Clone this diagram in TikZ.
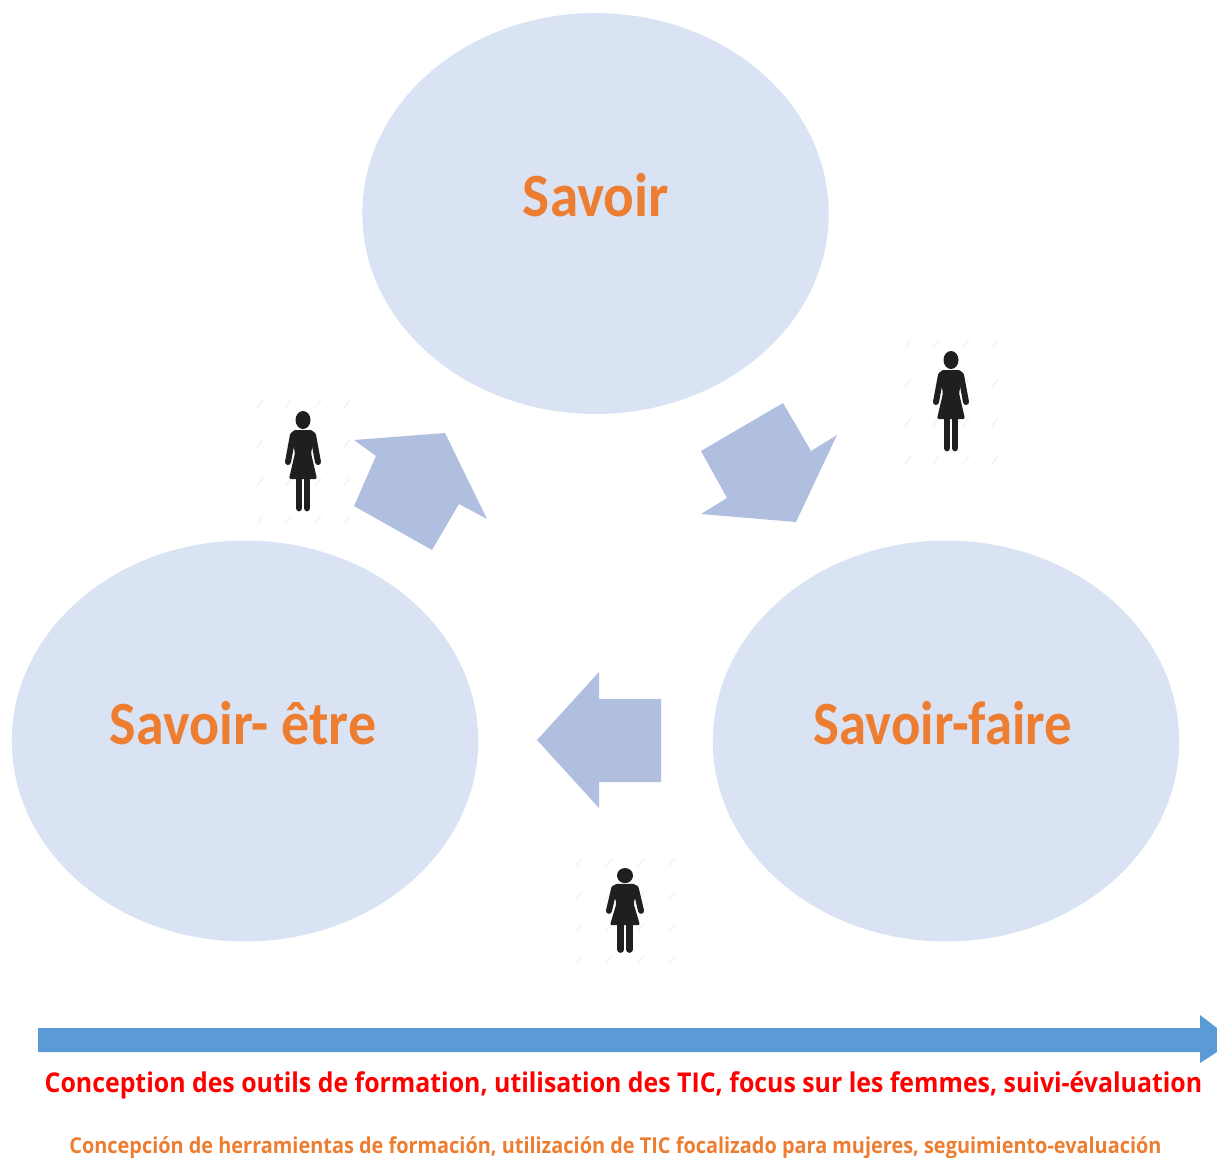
\documentclass[tikz,border=0pt]{standalone}
\usepackage{fontspec}
\setmainfont{Carlito}
\newfontfamily\notefont{Open Sans}
\usetikzlibrary{shapes.geometric}
\definecolor{circlefill}{HTML}{DAE3F3}
\definecolor{arrowfill}{HTML}{B0BEDF}
\definecolor{timeblue}{HTML}{5B9BD5}
\definecolor{titleorange}{HTML}{ED7D31}
\colorlet{womanfill}{black!88}
\tikzset{
  woman/.pic={
    \foreach \mx in {-43,-15,15,44}
      \foreach \my in {-57,-18,21,59}
        \draw[gray!9,line width=.035cm,rotate around={55:(\mx,\my)}] (\mx-5,\my)--(\mx+5,\my);
    \fill[womanfill] (0,-41) ellipse (7.5 and 9);
    \fill[womanfill,rounded corners=.04cm] (-10,-31)--(10,-31)--(12,-26)--(8,-8)--(14,18)--(-14,18)--(-8,-8)--(-12,-26)--cycle;
    \draw[womanfill,line width=.12cm,line cap=round] (-10,-26)--(-15,1);
    \draw[womanfill,line width=.12cm,line cap=round] (10,-26)--(15,1);
    \draw[womanfill,line width=.135cm,line cap=round] (-4,16)--(-4,47);
    \draw[womanfill,line width=.135cm,line cap=round] (4,16)--(4,47);
  },
}
\newcommand\narrowtext[2]{\scalebox{#1}[1]{#2}}
\tikzstyle{circ}=[ellipse,fill=circlefill,inner sep=0pt,minimum width=9.33cm,minimum height=8.02cm]
\tikzstyle{title}=[font=\fontsize{35}{35}\selectfont\bfseries,text=titleorange]
\tikzstyle{bigarrow}=[fill=arrowfill]
\begin{document}
\begin{tikzpicture}[x=.02cm,y=-.02cm]
  \useasboundingbox (0,0) rectangle (1217,1157);
  \node[circ] (savoir) at (595.5,213.5) {};
  \node[circ] (etre) at (245,741) {};
  \node[circ] (faire) at (946,741) {};
  \node[title] (savoirtext) at (596,195) {\narrowtext{.93}{Savoir}};
  \node[title] (etretext) at (243,723) {\narrowtext{.91}{Savoir- être}};
  \node[title] (fairetext) at (943,723) {\narrowtext{.89}{Savoir-faire}};
  % arrows between the circles
  \fill[bigarrow] (354,440)--(445,433)--(487,519)--(459,504)--(432,550)--(354,506)--(376,456)--cycle;
  \fill[bigarrow] (701,451)--(783,403)--(811,451)--(837,435)--(796,522)--(701,514)--(727,498)--cycle;
  \fill[bigarrow] (537,740)--(599,672)--(599,699)--(661,699)--(661,782)--(599,782)--(599,808)--cycle;
  \pic at (303,461) {woman};
  \pic at (951,401) {woman};
  \pic[xscale=1.07,yscale=.84] at (625,910) {woman};
  % time line
  \fill[timeblue] (38,1028)--(1200,1028)--(1200,1015)--(1217,1028)--(1217,1052)--(1200,1063)--(1200,1052)--(38,1052)--cycle;
  \node[font=\notefont\fontsize{15.5}{15.5}\selectfont\bfseries,text=red] (frtext) at (623.5,1085) {\narrowtext{.913}{Conception des outils de formation, utilisation des TIC, focus sur les femmes, suivi-évaluation}};
  \node[font=\notefont\fontsize{12.5}{12.5}\selectfont\bfseries,text=titleorange] (estext) at (615.5,1148) {\narrowtext{.906}{Concepción de herramientas de formación, utilización de TIC focalizado para mujeres, seguimiento-evaluación}};
\end{tikzpicture}
\end{document}
